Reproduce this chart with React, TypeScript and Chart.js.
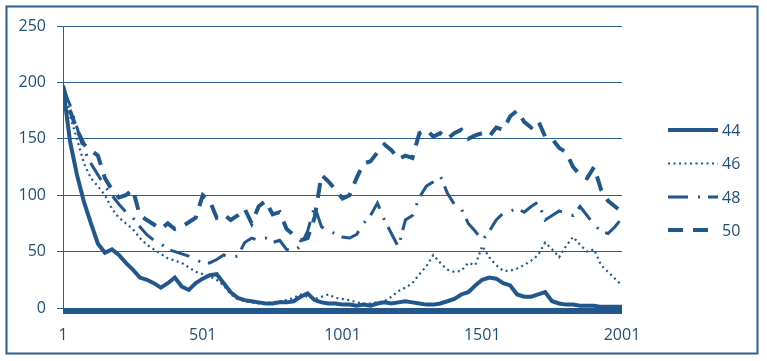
import React, { useEffect, useRef } from "react";
import { Chart, registerables } from "chart.js";

Chart.register(...registerables);

// ---- data ----
const xValues = [
  1, 26, 51, 76, 101, 126, 151, 176, 201, 226, 251, 276, 301, 326, 351, 376, 401, 426, 451, 476,
  501, 526, 551, 576, 601, 626, 651, 676, 701, 726, 751, 776, 801, 826, 851, 876, 901, 926, 951, 976,
  1001, 1026, 1051, 1076, 1101, 1126, 1151, 1176, 1201, 1226, 1251, 1276, 1301, 1326, 1351, 1376, 1401, 1426, 1451, 1476,
  1501, 1526, 1551, 1576, 1601, 1626, 1651, 1676, 1701, 1726, 1751, 1776, 1801, 1826, 1851, 1876, 1901, 1926, 1951, 1976,
  2001,
];

const series44 = [
  196, 148, 118, 94, 75, 57, 49, 52, 47, 40, 34, 27, 25, 22, 18, 22, 27, 19, 16, 22,
  26, 29, 30, 22, 14, 9, 7, 6, 5, 4, 4, 5, 5, 6, 10, 13, 7, 5, 4, 4,
  3, 3, 2, 3, 2, 4, 5, 4, 5, 6, 5, 4, 3, 3, 4, 6, 8, 12, 14, 20,
  25, 27, 26, 22, 20, 12, 10, 10, 12, 14, 6, 4, 3, 3, 2, 2, 2, 1, 1, 1,
  1,
];

const series46 = [
  198, 170, 150, 128, 115, 108, 100, 88, 80, 75, 70, 62, 56, 52, 48, 44, 42, 40, 36, 32,
  30, 28, 25, 20, 12, 8, 6, 5, 4, 4, 5, 6, 7, 9, 12, 10, 8, 10, 12, 9,
  8, 7, 5, 4, 4, 5, 6, 10, 15, 18, 22, 30, 37, 47, 40, 34, 32, 33, 40, 38,
  55, 45, 38, 33, 33, 35, 38, 42, 47, 58, 52, 45, 55, 63, 56, 50, 52, 38, 32, 26,
  20,
];

const series48 = [
  195, 180, 160, 140, 128, 118, 108, 100, 92, 85, 80, 72, 65, 60, 57, 52, 50, 48, 46, 43,
  40, 40, 43, 47, 45, 46, 58, 62, 60, 62, 58, 60, 52, 50, 55, 68, 90, 72, 68, 66,
  63, 62, 65, 75, 82, 93, 78, 66, 54, 78, 82, 98, 108, 112, 117, 102, 92, 88, 75, 68,
  60, 68, 78, 84, 86, 88, 85, 90, 94, 78, 82, 86, 84, 82, 90, 82, 74, 68, 66, 72,
  80,
];

const series50 = [
  197, 175, 158, 145, 140, 135, 115, 105, 98, 100, 105, 82, 78, 74, 70, 75, 70, 72, 76, 80,
  100, 95, 80, 83, 78, 82, 88, 75, 90, 95, 83, 85, 70, 65, 60, 62, 80, 118, 112, 105,
  97, 100, 115, 128, 130, 138, 145, 140, 132, 135, 133, 155, 158, 152, 155, 150, 155, 158, 150, 153,
  155, 152, 160, 158, 170, 175, 165, 160, 166, 152, 150, 142, 138, 125, 118, 115, 125, 105, 95, 90,
  85,
];

const seriesNames = ["44", "46", "48", "50"];
const xTickLabels = [1, 501, 1001, 1501, 2001];
const yTickStep = 50;

const LINE = "#22578C";
const GRID = "#2C5F92";
const TEXT = "#1F4E79";
const FONT = "'Open Sans', 'Noto Sans', sans-serif";

const styles = [
  { width: 4, dash: [] as number[] },
  { width: 2.2, dash: [2, 3.5] },
  { width: 3, dash: [20, 10, 2, 8] },
  { width: 4, dash: [15, 10] },
];

const decor = {
  id: "decor",
  beforeDatasetsDraw(chart: any) {
    const { ctx, chartArea } = chart;
    ctx.save();
    ctx.fillStyle = LINE;
    ctx.fillRect(chartArea.left, chartArea.bottom, chartArea.right - chartArea.left, 6);
    ctx.restore();
  },
  afterDraw(chart: any) {
    const { ctx, chartArea } = chart;
    ctx.save();
    // outer frame
    ctx.strokeStyle = GRID;
    ctx.lineWidth = 2;
    ctx.setLineDash([]);
    ctx.strokeRect(6.5, 6.5, 751, 347);
    // legend
    const lx0 = chartArea.right + 46;
    const lx1 = lx0 + 50;
    const rows = [130, 163.5, 197, 230];
    chart.data.datasets.forEach((ds: any, i: number) => {
      const y = rows[i];
      ctx.beginPath();
      ctx.strokeStyle = LINE;
      ctx.lineWidth = styles[i].width;
      ctx.setLineDash(styles[i].dash);
      ctx.lineCap = "butt";
      ctx.moveTo(lx0, y);
      ctx.lineTo(lx1, y);
      ctx.stroke();
      ctx.setLineDash([]);
      ctx.fillStyle = TEXT;
      ctx.font = `16px ${FONT}`;
      ctx.textBaseline = "middle";
      ctx.textAlign = "left";
      ctx.fillText(ds.label, lx1 + 4, y + 1);
    });
    ctx.restore();
  },
};

export default function App() {
  const canvasRef = useRef<HTMLCanvasElement | null>(null);

  useEffect(() => {
    if (!canvasRef.current) return;
    const allSeries = [series44, series46, series48, series50];
    const chart = new Chart(canvasRef.current, {
      type: "line",
      data: {
        datasets: allSeries.map((s, i) => ({
          label: seriesNames[i],
          data: xValues.map((x, j) => ({ x, y: s[j] })),
          borderColor: LINE,
          backgroundColor: LINE,
          borderWidth: styles[i].width,
          borderDash: styles[i].dash,
          pointRadius: 0,
          tension: 0,
          fill: false,
        })),
      },
      options: {
        responsive: false,
        animation: false,
        events: [],
        layout: { padding: { top: 26, right: 145, left: 0, bottom: 0 } },
        plugins: { legend: { display: false }, tooltip: { enabled: false } },
        scales: {
          x: {
            type: "linear",
            min: 1,
            max: 2001,
            grid: { display: false },
            border: { display: false },
            afterBuildTicks: (scale: any) => {
              scale.ticks = xTickLabels.map((v) => ({ value: v }));
            },
            afterFit: (scale: any) => {
              scale.height = 53;
            },
            ticks: {
              color: TEXT,
              font: { family: FONT, size: 16 },
              padding: 10,
              maxRotation: 0,
              autoSkip: false,
              callback: (v: any) => String(v),
            },
          },
          y: {
            min: 0,
            max: 250,
            afterFit: (scale: any) => {
              scale.width = 63;
            },
            ticks: {
              stepSize: yTickStep,
              color: TEXT,
              font: { family: FONT, size: 16 },
              padding: 11,
            },
            grid: { color: GRID, lineWidth: 1, tickLength: 6, drawTicks: true },
            border: { color: GRID, width: 1 },
          },
        },
      },
      plugins: [decor],
    });
    return () => chart.destroy();
  }, []);

  return (
    <div style={{ position: "fixed", left: 0, top: 0, width: 767, height: 361, background: "#fff" }}>
      <canvas ref={canvasRef} width={767} height={361} />
    </div>
  );
}
